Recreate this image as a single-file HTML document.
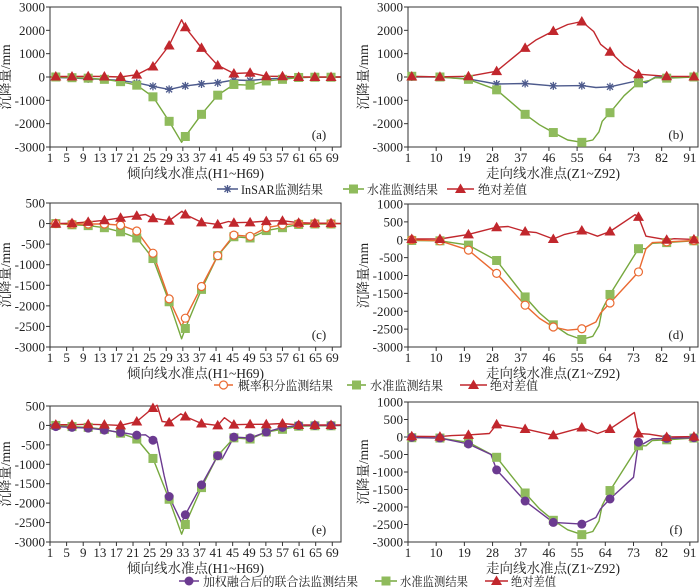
<!DOCTYPE html>
<html><head><meta charset="utf-8">
<style>
html,body{margin:0;padding:0;background:#fff;}
svg{display:block;}
text{font-family:"Liberation Serif","Noto Serif CJK SC","Noto Sans CJK SC",serif;fill:#222;}
</style></head>
<body>
<svg id="chart" width="700" height="587" viewBox="0 0 700 587" xmlns="http://www.w3.org/2000/svg"></svg>
<script>
// ---- data ----
const hMarkX = [2.4,6.3,10.2,14.1,18,21.9,25.8,29.7,33.6,37.5,41.4,45.3,49.2,53.1,57,60.9,64.8,68.7];
const zMarkX = [2.2,11.2,20.3,29.3,38.4,47.4,56.5,65.5,74.6,83.6,92.3];
const hTicks = [1,5,9,13,17,21,25,29,33,37,41,45,49,53,57,61,65,69];
const zTicks = [1,10,19,28,37,46,55,64,73,82,91];
const yTicks3000 = [3000,2000,1000,0,-1000,-2000,-3000];
const yTicks500 = [500,0,-500,-1000,-1500,-2000,-2500,-3000];
const yTicks1000 = [1000,500,0,-500,-1000,-1500,-2000,-2500,-3000];

const aRedM = [20,20,30,20,0,100,450,1350,2130,1250,500,150,180,30,30,0,0,0];
const aRedE = [[1,0],[32.7,2450],[71,0]];
const aGreenM = [0,-30,-50,-100,-200,-350,-850,-1900,-2550,-1600,-780,-320,-350,-170,-100,-20,-10,-10];
const aGreenE = [[1,0],[32.7,-2800],[71,0]];
const aBlueM = [-20,-40,-80,-100,-150,-250,-400,-530,-380,-300,-250,-130,-150,-80,-50,-20,-10,-10];
const aBlueE = [[1,0],[71,0]];

const bRedM = [20,10,30,250,1250,1970,2380,1080,120,30,20];
const bRedE = [[1,30],[42,1600],[52,2250],[60.3,1950],[62.5,1400],[70,500],[93.5,10]];
const bGreenM = [30,0,-100,-550,-1600,-2380,-2800,-1530,-250,-50,0];
const bGreenE = [[1,30],[43,-2050],[52,-2700],[60,-2700],[62,-2350],[63,-1900],[70,-800],[78,-150],[80,-30],[93.5,0]];
const bBlueM = [0,0,-80,-300,-280,-380,-370,-420,-150,-30,0];
const bBlueE = [[1,0],[61,-450],[77,-250],[80,0],[93.5,0]];

const cRedM = [0,10,40,80,140,190,130,70,220,30,-20,20,30,60,70,20,10,10];
const cRedE = [[1,0],[24,220],[32.8,300],[44,50],[71,0]];
const cOrangeM = [0,-10,-10,-10,-40,-180,-720,-1830,-2300,-1530,-780,-280,-310,-100,-30,0,0,0];
const cOrangeE = [[1,0],[32.7,-2500],[71,0]];

const dRedM = [20,20,150,350,230,20,260,230,640,0,10];
const dRedE = [[1,20],[33,370],[42,200],[51,150],[61.5,100],[73.5,700],[77,100],[86,30],[93.5,10]];
const dGreenM = [-20,-30,-150,-580,-1600,-2380,-2790,-1530,-250,-80,-30];
const dGreenE = [[1,-20],[43,-2050],[52,-2650],[60,-2700],[62,-2400],[63,-1950],[77,-250],[79,-100],[93.5,-30]];
const dOrangeM = [0,-30,-290,-940,-1830,-2440,-2490,-1770,-900,-60,-20];
const dOrangeE = [[1,0],[43,-2200],[52,-2530],[61,-2300],[62.5,-2050],[72,-1150],[77,-250],[79,-80],[93.5,-20]];

const eRedM = [20,20,30,20,0,100,450,80,230,50,0,20,30,30,50,10,10,10];
const eRedE = [[1,20],[26.8,520],[28,100],[32.5,300],[43,200],[71,10]];
const ePurpleM = [-30,-50,-70,-120,-180,-250,-380,-1830,-2300,-1530,-780,-300,-320,-170,-50,0,0,0];
const ePurpleE = [[1,-20],[24,-240],[26.8,-420],[28.5,-1300],[32.7,-2500],[42.5,-850],[71,0]];

const fRedM = [20,10,60,360,230,50,270,230,100,0,10];
const fRedE = [[1,20],[15,40],[27,100],[61.5,100],[73.3,700],[78,80],[93.5,10]];
const fPurpleM = [-10,-30,-200,-940,-1830,-2440,-2490,-1770,-150,-40,-20];
const fPurpleE = [[1,-10],[27.5,-500],[61,-2300],[62.5,-2050],[73,-1150],[76,-200],[79,-50],[93.5,-20]];

// ---- drawing ----
const NS = "http://www.w3.org/2000/svg";
const svg = document.getElementById('chart');
const C = {red:'#c1272d', green:'#76a83e', gm:'#8fbb5c', blue:'#4d5a8c', orange:'#ea6a32', purple:'#6b3a90'};
function mk(tag, attrs, parent){const e=document.createElementNS(NS,tag);for(const k in attrs)e.setAttribute(k,attrs[k]);(parent||svg).appendChild(e);return e;}

function merge(mx, mv, extra){
  const pts = mx.map((x,i)=>[x,mv[i]]).concat(extra);
  pts.sort((p,q)=>p[0]-q[0]);
  return pts;
}
function marker(g, type, x, y, color){
  let m;
  if(type==='tri') m=mk('polygon',{points:`${x},${y-5.5} ${x-5.5},${y+4} ${x+5.5},${y+4}`,fill:color},g);
  else if(type==='sq') m=mk('rect',{x:x-4.5,y:y-4.5,width:9,height:9,fill:C.gm},g);
  else if(type==='circ') m=mk('circle',{cx:x,cy:y,r:4,fill:'#fff',stroke:color,'stroke-width':1.2},g);
  else if(type==='dot') m=mk('circle',{cx:x,cy:y,r:4.5,fill:color},g);
  else if(type==='star'){ m=mk('path',{d:`M${x-4},${y}H${x+4}M${x-3},${y-3}L${x+3},${y+3}M${x-3},${y+3}L${x+3},${y-3}M${x},${y-4}V${y+4}`,stroke:color,'stroke-width':1.3},g);}
  
  
}
function panel(cfg){
  const {id,L,R,T,B,xmin,xmax,ymin,ymax,xt,yt,series,label,xtitle}=cfg;
  const g=mk('g',{});
  
  
  const sx=v=>L+(v-xmin)/(xmax-xmin)*(R-L);
  const sy=v=>B-(v-ymin)/(ymax-ymin)*(B-T);
  const fr=mk('rect',{x:L,y:T,width:R-L,height:B-T,fill:'none',stroke:'#333','stroke-width':1},g);
  
  
  yt.forEach(v=>{
    mk('line',{x1:L-4,x2:L,y1:sy(v),y2:sy(v),stroke:'#333'},g);
    const t=mk('text',{x:L-5,y:sy(v)+4.5,'text-anchor':'end','font-size':13},g);t.textContent=v;
    
    
  });
  xt.forEach(v=>{
    mk('line',{x1:sx(v),x2:sx(v),y1:B,y2:B+4,stroke:'#333'},g);
    const t=mk('text',{x:sx(v),y:B+15,'text-anchor':'middle','font-size':13},g);t.textContent=v;
    
    
  });
  const xt2=mk('text',{x:(L+R)/2,y:B+31,'text-anchor':'middle','font-size':13.5},g);xt2.textContent=xtitle;
  
  
  const yx=L-40, ym=(T+B)/2;
  const yt2=mk('text',{x:yx,y:ym,'text-anchor':'middle','font-size':13.5,transform:`rotate(-90 ${yx} ${ym})`},g);yt2.textContent='沉降量/mm';
  
  
  const lb=mk('text',{x:R-22,y:B-8,'text-anchor':'middle','font-size':13},g);lb.textContent=label;
  
  
  series.forEach(s=>{
    const pts=merge(s.mx,s.m,s.e);
    const ln=mk('polyline',{points:pts.map(p=>sx(p[0]).toFixed(1)+','+sy(p[1]).toFixed(1)).join(' '),fill:'none',stroke:s.color,'stroke-width':1.4,'stroke-linejoin':'round'},g);
    
    
  });
  series.forEach(s=>{ s.mx.forEach((x,i)=>marker(g,s.type,sx(x),sy(s.m[i]),s.color)); });
}
const hT='倾向线水准点(H1~H69)', zT='走向线水准点(Z1~Z92)';
panel({id:'a',L:50,R:341,T:7,B:147,xmin:1,xmax:71.1,ymin:-3000,ymax:3000,xt:hTicks,yt:yTicks3000,label:'(a)',xtitle:hT,series:[
 {name:'insar',mx:hMarkX,m:aBlueM,e:aBlueE,color:C.blue,type:'star'},
 {name:'leveling',mx:hMarkX,m:aGreenM,e:aGreenE,color:C.green,type:'sq'},
 {name:'abs-diff',mx:hMarkX,m:aRedM,e:aRedE,color:C.red,type:'tri'}]});
panel({id:'b',L:408,R:698,T:7,B:147,xmin:1,xmax:93.6,ymin:-3000,ymax:3000,xt:zTicks,yt:yTicks3000,label:'(b)',xtitle:zT,series:[
 {name:'insar',mx:zMarkX,m:bBlueM,e:bBlueE,color:C.blue,type:'star'},
 {name:'leveling',mx:zMarkX,m:bGreenM,e:bGreenE,color:C.green,type:'sq'},
 {name:'abs-diff',mx:zMarkX,m:bRedM,e:bRedE,color:C.red,type:'tri'}]});
panel({id:'c',L:50,R:341,T:203,B:347,xmin:1,xmax:71.1,ymin:-3000,ymax:500,xt:hTicks,yt:yTicks500,label:'(c)',xtitle:hT,series:[
 {name:'leveling',mx:hMarkX,m:aGreenM,e:aGreenE,color:C.green,type:'sq'},
 {name:'probability',mx:hMarkX,m:cOrangeM,e:cOrangeE,color:C.orange,type:'circ'},
 {name:'abs-diff',mx:hMarkX,m:cRedM,e:cRedE,color:C.red,type:'tri'}]});
panel({id:'d',L:408,R:698,T:204,B:347,xmin:1,xmax:93.6,ymin:-3000,ymax:1000,xt:zTicks,yt:yTicks1000,label:'(d)',xtitle:zT,series:[
 {name:'leveling',mx:zMarkX,m:dGreenM,e:dGreenE,color:C.green,type:'sq'},
 {name:'probability',mx:zMarkX,m:dOrangeM,e:dOrangeE,color:C.orange,type:'circ'},
 {name:'abs-diff',mx:zMarkX,m:dRedM,e:dRedE,color:C.red,type:'tri'}]});
panel({id:'e',L:50,R:341,T:406,B:542,xmin:1,xmax:71.1,ymin:-3000,ymax:500,xt:hTicks,yt:yTicks500,label:'(e)',xtitle:hT,series:[
 {name:'leveling',mx:hMarkX,m:aGreenM,e:aGreenE,color:C.green,type:'sq'},
 {name:'fusion',mx:hMarkX,m:ePurpleM,e:ePurpleE,color:C.purple,type:'dot'},
 {name:'abs-diff',mx:hMarkX,m:eRedM,e:eRedE,color:C.red,type:'tri'}]});
panel({id:'f',L:408,R:698,T:402,B:542,xmin:1,xmax:93.6,ymin:-3000,ymax:1000,xt:zTicks,yt:yTicks1000,label:'(f)',xtitle:zT,series:[
 {name:'leveling',mx:zMarkX,m:dGreenM,e:dGreenE,color:C.green,type:'sq'},
 {name:'fusion',mx:zMarkX,m:fPurpleM,e:fPurpleE,color:C.purple,type:'dot'},
 {name:'abs-diff',mx:zMarkX,m:fRedM,e:fRedE,color:C.red,type:'tri'}]});

// legends
function legend(y, items){
  items.forEach(it=>{
    const g=mk('g',{});
    
    
    mk('line',{x1:it.x1,x2:it.x2,y1:y,y2:y,stroke:it.color,'stroke-width':1.4},g);
    marker(g,it.type,(it.x1+it.x2)/2,y,it.color);
    const t=mk('text',{x:it.tx,y:y+5,'font-size':12.5,textLength:it.tw,lengthAdjust:'spacingAndGlyphs'},g);t.textContent=it.text;
  });
}
legend(189,[
 {x1:217,x2:238,tx:241,tw:82,color:C.blue,type:'star',text:'InSAR监测结果'},
 {x1:343,x2:364,tx:367,tw:71,color:C.green,type:'sq',text:'水准监测结果'},
 {x1:447,x2:474,tx:478,tw:49,color:C.red,type:'tri',text:'绝对差值'}]);
legend(385,[
 {x1:214,x2:233,tx:238,tw:95,color:C.orange,type:'circ',text:'概率积分监测结果'},
 {x1:347,x2:366,tx:370,tw:73,color:C.green,type:'sq',text:'水准监测结果'},
 {x1:460,x2:487,tx:490,tw:48,color:C.red,type:'tri',text:'绝对差值'}]);
legend(581,[
 {x1:179,x2:199,tx:203,tw:155,color:C.purple,type:'dot',text:'加权融合后的联合法监测结果'},
 {x1:375,x2:397,tx:400,tw:68,color:C.green,type:'sq',text:'水准监测结果'},
 {x1:485,x2:508,tx:511,tw:45,color:C.red,type:'tri',text:'绝对差值'}]);
</script>
</body></html>
